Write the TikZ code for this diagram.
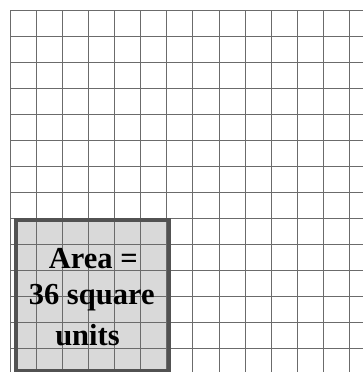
\documentclass[tikz,border=0pt]{standalone}
\usepackage{fontspec}
\setmainfont{Liberation Serif}
\begin{document}
\begin{tikzpicture}[x=1pt,y=-1pt,
  gridline/.style={draw=black!58,line width=1pt},
  label/.style={anchor=base,inner sep=0pt,font=\fontsize{30.5}{36}\selectfont\bfseries}]
\useasboundingbox (0,0) rectangle (363,372);
\fill[white] (0,0) rectangle (363,372);
% shaded area
\fill[black!15] (15.5,220) rectangle (168.5,370.5);
% grid
\foreach \i in {0,...,13} {
  \draw[gridline] ({10.5+26.07*\i},10) -- ({10.5+26.07*\i},372);
  \draw[gridline] (10.5,{10+26.07*\i}) -- (363,{10+26.07*\i});
}
% border
\draw[draw=black!68,line width=4pt] (15.5,220) rectangle (168.5,370.5);
\node[label] (l1) at (93.3,268.3) {Area =};
\node[label] (l2) at (91.7,304) {36 square};
\node[label] (l3) at (87.5,345) {units};
\end{tikzpicture}
\end{document}
